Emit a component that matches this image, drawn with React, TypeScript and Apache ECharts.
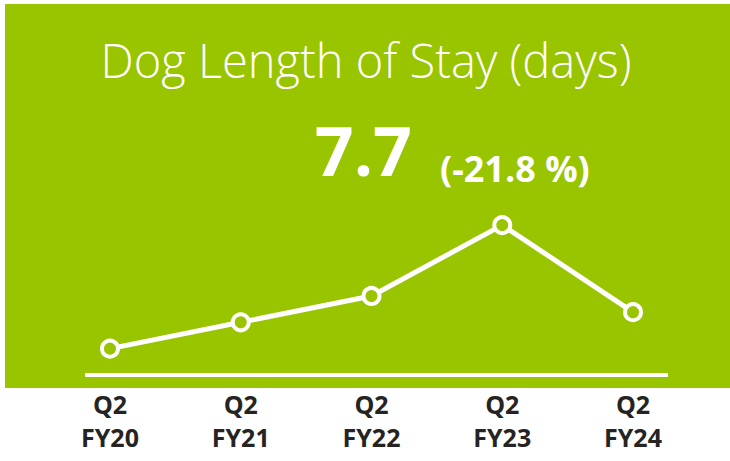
import React, { useEffect, useRef } from "react";
import * as echarts from "echarts";

const categories = ["Q2\nFY20", "Q2\nFY21", "Q2\nFY22", "Q2\nFY23", "Q2\nFY24"];
const values = [6.8, 7.45, 8.1, 9.85, 7.7];
const titleText = "Dog Length of Stay (days)";
const currentValue = "7.7";
const changeText = "(-21.8 %)";

const GREEN = "#99C400";

export default function App() {
  const ref = useRef<HTMLDivElement>(null);
  useEffect(() => {
    const chart = echarts.init(ref.current!, null, { renderer: "svg" });
    chart.setOption({
      animation: false,
      backgroundColor: "#ffffff",
      grid: { left: 110, right: 97, top: 219, bottom: 84, containLabel: false },
      xAxis: {
        type: "category",
        data: categories,
        boundaryGap: false,
        axisLine: { show: false },
        axisTick: { show: false },
        axisLabel: {
          color: "#252423",
          fontFamily: "Open Sans",
          fontWeight: "bold",
          fontSize: 25,
          lineHeight: 33,
          margin: 10,
        },
      },
      yAxis: {
        type: "value",
        min: 6.1,
        max: 10,
        show: false,
        splitLine: { show: false },
      },
      graphic: [
        {
          type: "rect",
          z: -10,
          silent: true,
          shape: { x: 5, y: 4, width: 725, height: 384 },
          style: { fill: GREEN },
        },
        {
          type: "line",
          z: 1,
          shape: { x1: 85, y1: 375, x2: 668, y2: 375 },
          style: { stroke: "#ffffff", lineWidth: 4 },
        },
        {
          type: "text",
          x: 366,
          y: 60,
          style: {
            text: titleText,
            fill: "#ffffff",
            font: "300 47px 'Open Sans'",
            align: "center",
            verticalAlign: "middle",
          },
        },
        {
          type: "text",
          x: 412,
          y: 183,
          style: {
            text: currentValue,
            fill: "#ffffff",
            font: "bold 68px 'Open Sans'",
            align: "right",
            verticalAlign: "bottom",
          },
        },
        {
          type: "text",
          x: 440,
          y: 186,
          style: {
            text: changeText,
            fill: "#ffffff",
            font: "bold 36px 'Open Sans'",
            align: "left",
            verticalAlign: "bottom",
          },
        },
      ],
      series: [
        {
          type: "line",
          data: values,
          symbol: "circle",
          symbolSize: 16,
          lineStyle: { color: "#ffffff", width: 5 },
          itemStyle: { color: GREEN, borderColor: "#ffffff", borderWidth: 4 },
          z: 5,
        },
      ],
    });
    return () => chart.dispose();
  }, []);
  return (
    <div
      ref={ref}
      style={{ position: "fixed", left: 0, top: 0, width: 730, height: 461 }}
    />
  );
}
